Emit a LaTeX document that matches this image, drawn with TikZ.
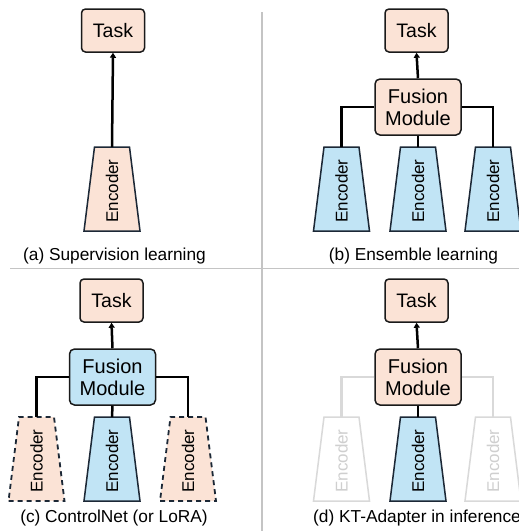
\documentclass[tikz,border=0pt]{standalone}
\usepackage{fontspec}
\setmainfont{Liberation Sans}
\usetikzlibrary{arrows.meta,calc}
\definecolor{peach}{HTML}{FBE3D6}
\definecolor{lblue}{HTML}{C1E4F5}
\definecolor{edge}{HTML}{1A1A1A}
\definecolor{enc}{HTML}{1C2836}
\definecolor{faint}{HTML}{D9D9D9}
\definecolor{fainttext}{HTML}{CFCFCF}
\definecolor{divider}{HTML}{C4C4C4}
\newcommand{\encnode}[4]{%
  \node[encbox] (#1) at (#2) {};
  \path[#3] (#1.south west) -- (#1.south east) -- ([xshift=-10.5pt]#1.north east) -- ([xshift=10.5pt]#1.north west) -- cycle;
  \node[enclabel,#4] (#1l) at ($(#1.center)+(0,2)$) {Encoder};
}
\begin{document}
\begin{tikzpicture}[x=1pt,y=-1pt,
  taskbox/.style={draw=edge, line width=1.5pt, rounded corners=4pt, fill=peach, minimum width=63pt, minimum height=43pt, font=\fontsize{19.5}{22}\selectfont, inner sep=0pt},
  fusionbox/.style={draw=edge, line width=1.5pt, rounded corners=5pt, minimum width=86pt, minimum height=56pt, align=center, font=\fontsize{20}{22}\selectfont, inner sep=0pt},
  encbox/.style={draw=none, minimum width=56pt, minimum height=84pt, inner sep=0pt, outer sep=0pt},
  encsolid/.style={draw=enc, line width=1.5pt},
  encdash/.style={draw=enc, line width=1.8pt, dash pattern=on 5pt off 4pt},
  encgray/.style={draw=faint, line width=1.5pt, fill=white},
  enclabel/.style={rotate=90, font=\fontsize{17}{19}\selectfont, inner sep=0pt},
  conn/.style={line width=2.5pt, draw=black},
  connfaint/.style={line width=2.5pt, draw=faint},
  arr/.style={conn, -{Triangle[length=5pt,width=6pt]}},
  captionlbl/.style={font=\fontsize{17.3}{20}\selectfont, inner sep=0pt},
  divline/.style={draw=divider, line width=1.5pt},
]
\useasboundingbox (0,0) rectangle (519,531);
\clip (0,0) rectangle (519,531);

% dividers
\draw[divline] (10,268.5) -- (519,268.5);
\draw[divline] (262,12) -- (262,531);

% (a)
\node[taskbox] (ta) at (113,30.5) {Task};
\encnode{ea}{112,189}{encsolid, fill=peach}{}
\draw[arr] (ea.north) -- (ta.south);
\node[captionlbl] (capa) at (114.5,256) {(a) Supervision learning};

% (b)
\node[taskbox] (tb) at (416.5,30.5) {Task};
\node[fusionbox, fill=peach] (fb) at (418,107) {Fusion\\Module};
\encnode{eba}{341.5,189}{encsolid, fill=lblue}{}
\encnode{ebb}{418,189}{encsolid, fill=lblue}{}
\encnode{ebc}{493,189}{encsolid, fill=lblue}{}
\draw[arr] (fb.north) -- (tb.south);
\draw[conn] (fb.west) -| (eba.north);
\draw[conn] (fb.south) -- (ebb.north);
\draw[conn] (fb.east) -| (ebc.north);
\node[captionlbl] (capb) at (413.5,256) {(b) Ensemble learning};

% (c)
\node[taskbox] (tc) at (111.5,300.5) {Task};
\node[fusionbox, fill=lblue] (fc) at (112.5,377) {Fusion\\Module};
\encnode{eca}{36.5,459}{encdash, fill=peach}{}
\encnode{ecb}{112,459}{encsolid, fill=lblue}{}
\encnode{ecc}{188,459}{encdash, fill=peach}{}
\draw[arr] (fc.north) -- (tc.south);
\draw[conn] (fc.west) -| (eca.north);
\draw[conn] (fc.south) -- (ecb.north);
\draw[conn] (fc.east) -| (ecc.north);
\node[captionlbl] (capc) at (114,518) {(c) ControlNet (or LoRA)};

% (d)
\node[taskbox] (td) at (416.5,300.5) {Task};
\node[fusionbox, fill=peach] (fd) at (418,377) {Fusion\\Module};
\encnode{eda}{341.5,459}{encgray}{text=fainttext}
\encnode{edb}{418,459}{encsolid, fill=lblue}{}
\encnode{edc}{493,459}{encgray}{text=fainttext}
\draw[arr] (fd.north) -- (td.south);
\draw[connfaint] (fd.west) -| (eda.north);
\draw[conn] (fd.south) -- (edb.north);
\draw[connfaint] (fd.east) -| (edc.north);
\node[captionlbl] (capd) at (417,518) {(d) KT-Adapter in inference};
\end{tikzpicture}
\end{document}
